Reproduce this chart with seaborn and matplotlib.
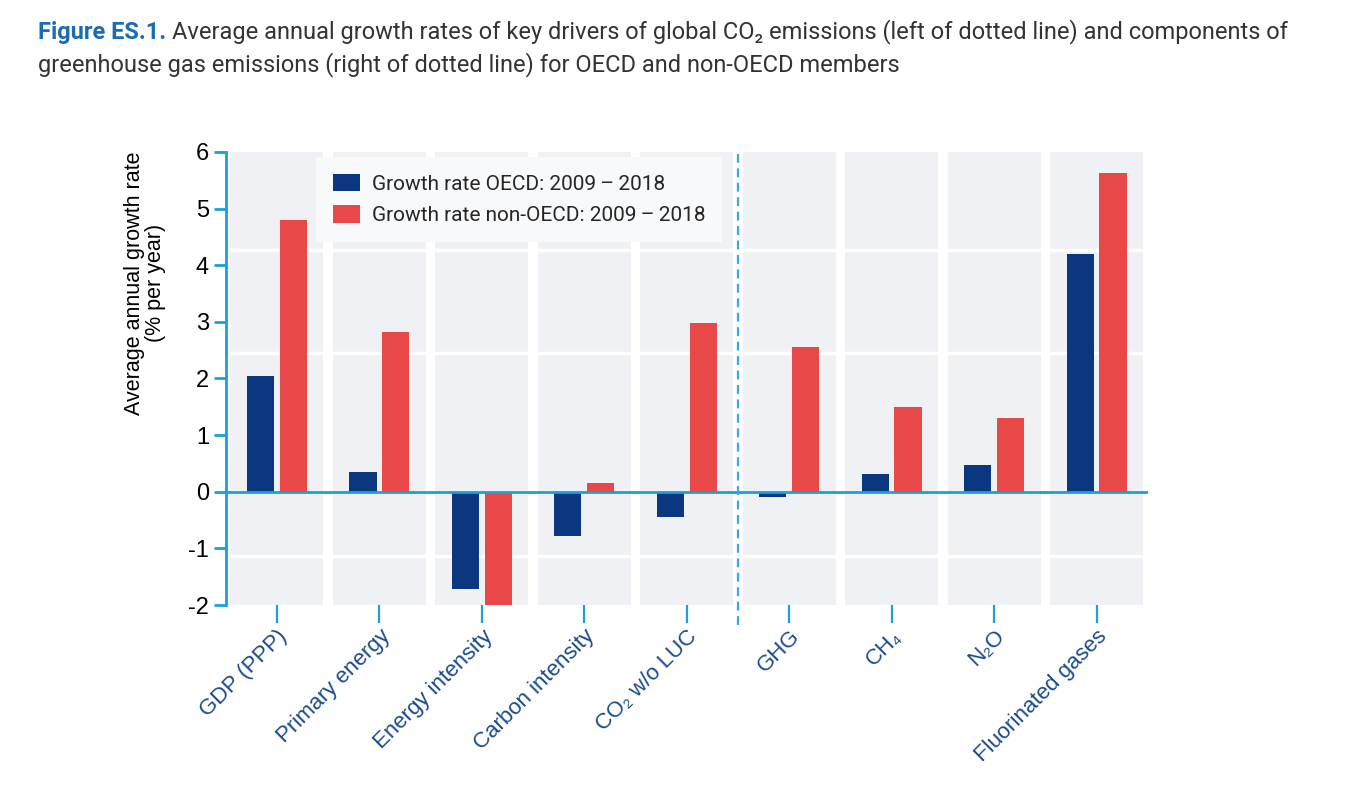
import pandas as pd
import numpy as np
import matplotlib
matplotlib.use("Agg")
import matplotlib.pyplot as plt
from matplotlib.patches import Patch
import seaborn as sns

categories = ["GDP (PPP)", "Primary energy", "Energy intensity", "Carbon intensity",
              "CO\u2082 w/o LUC", "GHG", "CH\u2084", "N\u2082O", "Fluorinated gases"]
oecd = [2.05, 0.35, -1.71, -0.78, -0.44, -0.09, 0.31, 0.47, 4.20]
non_oecd = [4.80, 2.82, -2.00, 0.16, 2.98, 2.56, 1.50, 1.31, 5.62]
series_names = ["Growth rate OECD: 2009\u2009\u2013\u20092018",
                "Growth rate non-OECD: 2009\u2009\u2013\u20092018"]
yticks = [-2, -1, 0, 1, 2, 3, 4, 5, 6]

blue = "#0b3680"
red = "#e84848"
axis_col = "#1ba0d9"
panel_col = "#f0f1f4"
arial = ['Liberation Sans', 'DejaVu Sans']

sns.set_theme(style="white")
plt.rcParams['font.family'] = ['Roboto', 'DejaVu Sans']

df = pd.DataFrame({
    "category": categories * 2,
    "value": oecd + non_oecd,
    "group": [series_names[0]] * len(categories) + [series_names[1]] * len(categories),
})

fig = plt.figure(figsize=(13.52, 7.94), dpi=100)
ax = fig.add_axes([0.1669, 0.238, 0.849 - 0.1669, 0.8086 - 0.238])

# background cells
for i in range(len(categories)):
    ax.axvspan(i - 0.453, i + 0.453, ymin=0, ymax=1.003, color=panel_col, zorder=0, lw=0)
for yy in [4.27, 2.45, -1.13]:
    ax.axhline(yy, color="white", lw=2.5, zorder=0.5)

sns.barplot(data=df, x="category", y="value", hue="group", palette=[blue, red],
            width=0.64, gap=0.17, ax=ax, legend=False, zorder=2, saturation=1,
            linewidth=0, edgecolor="none")

ax.axhline(0, color=axis_col, lw=2, zorder=3)
ax.plot([4.5, 4.5], [-2.35, 6.0], color="#3aa8e0", lw=1.6, ls=(0, (4, 2.5)),
        clip_on=False, zorder=3)

ax.set_xlim(-0.5, len(categories) - 0.5)
ax.set_ylim(-2, 6)
ax.set_yticks(yticks)
ax.set_yticklabels([str(v) for v in yticks], fontsize=17, color="black", family=arial)
ax.set_xlabel("")
ax.set_ylabel("")

for s in ["top", "right", "bottom"]:
    ax.spines[s].set_visible(False)
ax.spines["left"].set_color(axis_col)
ax.spines["left"].set_linewidth(2)
ax.tick_params(axis="y", direction="out", length=9, width=2, color=axis_col, pad=3, left=True)
ax.tick_params(axis="x", direction="out", length=13, width=1.6, color=axis_col, pad=2, bottom=True)

ax.set_xticks(range(len(categories)))
ax.set_xticklabels(categories, rotation=45, ha="right", rotation_mode="anchor",
                   fontsize=16, color="#1a4a8c", family=arial)

handles = [Patch(facecolor=blue, edgecolor="none"), Patch(facecolor=red, edgecolor="none")]
leg = ax.legend(handles, series_names, loc="upper left", bbox_to_anchor=(0.098, 0.988),
                fontsize=15, frameon=True, facecolor="#f8f9fb", edgecolor="none",
                framealpha=1, handlelength=1.3, handleheight=0.9, handletextpad=0.6,
                labelspacing=0.55, borderpad=0.8, borderaxespad=0, fancybox=False)
leg.set_zorder(4)

fig.text(145 / 1352, 1 - 283 / 794, "Average annual growth rate\n(% per year)",
         rotation=90, ha="center", va="center", multialignment="center",
         fontsize=15.5, color="black", linespacing=1.0, family=arial)

# title
fig.canvas.draw()
r = fig.canvas.get_renderer()
t1 = fig.text(38 / 1352, 1 - 32 / 794, "Figure ES.1.", fontsize=17, fontweight="bold",
              color="#1c6cb4", ha="left", va="center")
bb = t1.get_window_extent(renderer=r)
fig.text(bb.x1 / 1352 + 6 / 1352, 1 - 32 / 794,
         "Average annual growth rates of key drivers of global CO\u2082 emissions (left of dotted line) and components of",
         fontsize=17, color="#333333", ha="left", va="center")
fig.text(38 / 1352, 1 - 65 / 794,
         "greenhouse gas emissions (right of dotted line) for OECD and non-OECD members",
         fontsize=17, color="#333333", ha="left", va="center")

fig.savefig("out.png", dpi=100)
